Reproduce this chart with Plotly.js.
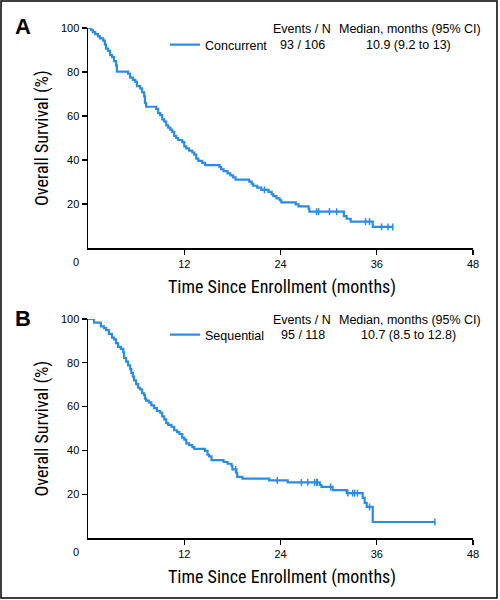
<!DOCTYPE html>
<html>
<head>
<meta charset="utf-8">
<script src="https://cdn.plot.ly/plotly-3.0.1.min.js"></script>
<style>html,body{margin:0;padding:0;background:#fff;}#chart{width:500px;height:600px;}</style>
</head>
<body>
<div id="chart"></div>
<script>
// ---- Data ----
const concurrentMonths = [0,0.4,0.6,0.9,1.25,1.5,1.9,2.1,2.25,2.5,2.75,3.0,3.25,3.5,3.6,5.0,5.25,5.6,5.9,6.1,6.5,6.75,7.0,7.1,7.25,8.5,8.75,9.0,9.25,9.5,9.75,10.0,10.25,10.5,10.75,11.0,11.25,11.75,12.0,12.25,12.6,13.0,13.25,13.5,13.75,14.25,14.6,16.4,16.6,16.9,17.4,17.75,18.1,18.4,20.1,20.4,20.6,21.1,21.6,22.5,22.9,23.1,23.5,23.9,24.1,25.9,26.25,27.5,27.6,31.9,32.25,32.75,35.5,38.0];
const concurrentSurv = [100,99.1,98.1,97.2,96.2,95.3,94.3,92.4,90.6,89.6,87.7,86.8,84.9,83.0,80.2,79.2,77.4,76.4,75.5,73.6,72.6,70.8,68.9,66.0,64.2,63.2,61.3,60.4,58.5,57.5,55.7,54.7,53.8,52.8,51.0,50.0,49.1,48.1,46.2,45.3,44.3,43.4,42.4,40.6,39.6,38.7,37.7,36.8,35.8,34.9,33.9,33.0,32.1,31.1,30.2,29.2,28.3,27.4,26.4,25.5,24.5,23.6,22.6,21.7,20.7,19.8,18.9,17.9,16.5,14.5,13.3,12.0,9.6,9.6];
const concurrentCensorMonths = [22.0,28.5,28.75,30.1,31.0,34.6,35.1,36.6,37.4,38.0];
const concurrentCensorSurv = [26.4,16.5,16.5,16.5,16.5,12.0,12.0,9.6,9.6,9.6];

const sequentialMonths = [0,0.75,1.6,2.0,2.25,2.6,3.0,3.25,3.5,3.75,4.1,4.4,4.5,4.75,5.0,5.25,5.4,5.6,5.75,6.0,6.25,6.5,6.75,7.0,7.1,7.25,7.6,7.9,8.25,8.6,9.0,9.25,9.5,9.75,10.0,10.4,10.75,11.1,11.4,11.75,12.0,12.25,12.6,13.0,13.25,14.6,14.9,15.1,15.4,16.9,17.4,17.9,18.0,18.5,18.6,19.25,22.6,24.9,28.9,29.1,30.5,32.25,34.25,34.5,34.75,35.5,43.25];
const sequentialSurv = [100,98.3,96.6,95.8,94.9,93.2,91.5,90.7,89.0,87.3,86.4,84.7,82.2,80.5,78.8,77.1,75.4,73.7,72.0,70.3,68.6,67.8,66.1,65.3,63.6,62.7,61.9,60.6,59.3,58.0,57.2,55.5,54.2,52.5,51.7,50.8,49.2,48.3,47.5,45.8,44.9,43.2,42.4,41.5,40.7,39.8,38.1,37.3,35.6,34.7,33.9,33.0,31.3,29.6,27.9,27.1,26.3,25.4,24.2,23.3,21.9,20.5,18.3,16.0,14.2,7.3,7.3];
const sequentialCensorMonths = [18.4,23.6,26.6,27.4,28.25,28.5,28.6,30.25,32.4,33.0,33.25,33.6,35.1,43.25];
const sequentialCensorSurv = [31.3,26.3,25.4,25.4,25.4,25.4,25.4,23.3,20.5,20.5,20.5,20.5,14.2,7.3];

const xTickVals = [12,24,36,48];
const xTickText = ['12','24','36','48'];
const yTickVals = [20,40,60,80,100];
const yTickText = ['20','40','60','80','100'];

const panelLetters = ['A','B'];
const groupNames = ['Concurrent','Sequential'];
const eventsN = ['93 / 106','95 / 118'];
const medians = ['10.9 (9.2 to 13)','10.7 (8.5 to 12.8)'];
const headerEvents = 'Events / N';
const headerMedian = 'Median, months (95% CI)';
const xTitle = 'Time Since Enrollment (months)';
const yTitle = 'Overall Survival (%)';

// ---- Styling ----
const BLUE = '#2B8CE6';
const W = 500, H = 600;
const px = v => v / W;           // pixel x -> paper
const py = v => 1 - v / H;       // pixel y -> paper
const condensed = '"Roboto Condensed", "Liberation Sans Narrow", "Arial Narrow", sans-serif';
const sans = '"Liberation Sans", Arial, Helvetica, sans-serif';

const traces = [
  {x: concurrentMonths, y: concurrentSurv, xaxis:'x', yaxis:'y', type:'scatter', mode:'lines',
   line:{shape:'hv', color:BLUE, width:2.2}, name: groupNames[0], legend:'legend', cliponaxis:false},
  {x: concurrentCensorMonths, y: concurrentCensorSurv, xaxis:'x', yaxis:'y', type:'scatter', mode:'markers',
   marker:{symbol:'line-ns-open', size:5, color:BLUE, line:{color:BLUE, width:1.5}}, showlegend:false, cliponaxis:false, hoverinfo:'skip'},
  {x: sequentialMonths, y: sequentialSurv, xaxis:'x2', yaxis:'y2', type:'scatter', mode:'lines',
   line:{shape:'hv', color:BLUE, width:2.2}, name: groupNames[1], legend:'legend2', cliponaxis:false},
  {x: sequentialCensorMonths, y: sequentialCensorSurv, xaxis:'x2', yaxis:'y2', type:'scatter', mode:'markers',
   marker:{symbol:'line-ns-open', size:5, color:BLUE, line:{color:BLUE, width:1.5}}, showlegend:false, cliponaxis:false, hoverinfo:'skip'}
];

function xAxis(anchor){
  return {domain:[px(88), px(473)], range:[0,48], anchor:anchor, tickmode:'array', tickvals:xTickVals, ticktext:xTickText,
    ticks:'outside', ticklen:5, tickwidth:1.2, tickcolor:'#000', showline:true, linecolor:'#000', linewidth:1.5,
    showgrid:false, zeroline:false, tickfont:{family:sans, size:11, color:'#000'}, fixedrange:true};
}
function yAxis(anchor, top, bottom){
  return {domain:[py(bottom), py(top)], range:[0,100], anchor:anchor, tickmode:'array', tickvals:yTickVals, ticktext:yTickText,
    ticks:'outside', ticklen:5, tickwidth:1.2, tickcolor:'#000', showline:true, linecolor:'#000', linewidth:1.5,
    showgrid:false, zeroline:false, tickfont:{family:sans, size:11, color:'#000'}, fixedrange:true};
}

const panels = [
  {top:28, bottom:248, letterY:26, legendY:45, headerY:29, xTitleY:287},
  {top:319, bottom:538, letterY:318, legendY:335, headerY:320, xTitleY:577}
];

const annotations = [];
panels.forEach((p, i) => {
  annotations.push({text:'<b>'+panelLetters[i]+'</b>', xref:'paper', yref:'paper', x:px(23), y:py(p.letterY),
    showarrow:false, font:{family:sans, size:22, color:'#000'}, xanchor:'center', yanchor:'middle'});
  annotations.push({text:'0', xref:'paper', yref:'paper', x:px(76), y:py(p.bottom+14),
    showarrow:false, font:{family:sans, size:11, color:'#000'}, xanchor:'center', yanchor:'middle'});
  annotations.push({text:yTitle, xref:'paper', yref:'paper', x:px(42), y:py((p.top+p.bottom)/2), textangle:-90,
    showarrow:false, font:{family:condensed, size:18, color:'#000'}, xanchor:'center', yanchor:'middle'});
  annotations.push({text:xTitle, xref:'paper', yref:'paper', x:px(282), y:py(p.xTitleY),
    showarrow:false, font:{family:condensed, size:18, color:'#000'}, xanchor:'center', yanchor:'middle'});
  annotations.push({text:headerEvents, xref:'paper', yref:'paper', x:px(302), y:py(p.headerY),
    showarrow:false, font:{family:sans, size:12.5, color:'#000'}, xanchor:'center', yanchor:'middle'});
  annotations.push({text:headerMedian, xref:'paper', yref:'paper', x:px(409.5), y:py(p.headerY),
    showarrow:false, font:{family:sans, size:12.5, color:'#000'}, xanchor:'center', yanchor:'middle'});
  annotations.push({text:eventsN[i], xref:'paper', yref:'paper', x:px(302.5), y:py(p.legendY),
    showarrow:false, font:{family:sans, size:12.5, color:'#000'}, xanchor:'center', yanchor:'middle'});
  annotations.push({text:medians[i], xref:'paper', yref:'paper', x:px(408), y:py(p.legendY),
    showarrow:false, font:{family:sans, size:12.5, color:'#000'}, xanchor:'center', yanchor:'middle'});
});

function legendAt(yPix){
  return {x:px(165), y:py(yPix), xanchor:'left', yanchor:'middle', bgcolor:'rgba(0,0,0,0)', borderwidth:0,
    font:{family:sans, size:12.5, color:'#000'}, itemclick:false, itemdoubleclick:false};
}

const layout = {
  width:W, height:H, margin:{l:0,r:0,t:0,b:0}, paper_bgcolor:'#fff', plot_bgcolor:'#fff',
  showlegend:true,
  xaxis:xAxis('y'), yaxis:yAxis('x', panels[0].top, panels[0].bottom),
  xaxis2:xAxis('y2'), yaxis2:yAxis('x2', panels[1].top, panels[1].bottom),
  legend:legendAt(panels[0].legendY), legend2:legendAt(panels[1].legendY),
  annotations:annotations,
  shapes:[{type:'rect', xref:'paper', yref:'paper', x0:px(1), x1:px(497), y0:py(598), y1:py(1), line:{color:'#000', width:1.5}}]
};

Plotly.newPlot('chart', traces, layout, {staticPlot:true, displayModeBar:false});
</script>
</body>
</html>
